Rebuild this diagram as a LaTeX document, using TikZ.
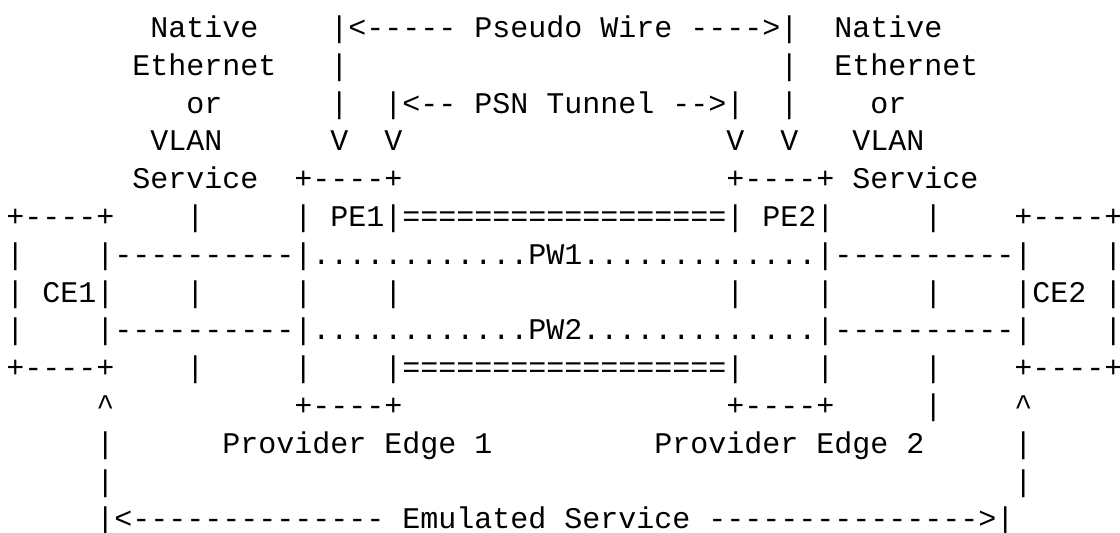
\documentclass[tikz,border=0pt]{standalone}
\usepackage{fontspec}
\setmonofont{Liberation Mono}
\tikzset{
	ascii/.style={font=\ttfamily\fontsize{15pt}{18pt}\selectfont, inner sep=0pt, anchor=base west}
}

\begin{document}
\begin{tikzpicture}[x=9pt, y=-18.9pt]
		% Page size (columns across, text rows down)
		\useasboundingbox (-0.333,-0.992) rectangle (61.889,13.108);
		% Attachment circuit labels
		\node[ascii] (nativeL) at (8,0) {Native};
		\node[ascii] (etherL) at (7,1) {Ethernet};
		\node[ascii] (orL) at (10,2) {or};
		\node[ascii] (vlanL) at (8,3) {VLAN};
		\node[ascii] (serviceL) at (7,4) {Service};
		\node[ascii] (nativeR) at (46,0) {Native};
		\node[ascii] (etherR) at (46,1) {Ethernet};
		\node[ascii] (orR) at (48,2) {or};
		\node[ascii] (vlanR) at (47,3) {VLAN};
		\node[ascii] (serviceR) at (47,4) {Service};
		% Pseudo wire span
		\node[ascii] (pwSpan) at (18,0) {|<----- Pseudo Wire ---->|};
		\node[ascii] (pwBarL1) at (18,1) {|};
		\node[ascii] (pwBarR1) at (43,1) {|};
		\node[ascii] (pwBarL2) at (18,2) {|};
		\node[ascii] (pwBarR2) at (43,2) {|};
		\node[ascii] (pwTipL) at (18,3) {V};
		\node[ascii] (pwTipR) at (43,3) {V};
		% PSN tunnel span
		\node[ascii] (psnSpan) at (21,2) {|<-- PSN Tunnel -->|};
		\node[ascii] (psnTipL) at (21,3) {V};
		\node[ascii] (psnTipR) at (40,3) {V};
		% Provider edges and the tunnel between them
		\node[ascii] (pe1Top) at (16,4) {+----+};
		\node[ascii] (pe2Top) at (40,4) {+----+};
		\node[ascii] (pe1) at (16,5) {| PE1|};
		\node[ascii] (tunTop) at (22,5) {==================};
		\node[ascii] (pe2) at (40,5) {| PE2|};
		\node[ascii] (tunBot) at (21,9) {|==================|};
		\node[ascii] (pe1Bot) at (16,10) {+----+};
		\node[ascii] (pe2Bot) at (40,10) {+----+};
		\node[ascii] (pe1Name) at (12,11) {Provider Edge 1};
		\node[ascii] (pe2Name) at (36,11) {Provider Edge 2};
		% Customer edges
		\node[ascii] (ce1Top) at (0,5) {+----+};
		\node[ascii] (ce1SideA) at (0,6) {|};
		\node[ascii] (ce1) at (0,7) {|~CE1|};
		\node[ascii] (ce1SideB) at (0,8) {|};
		\node[ascii] (ce1Bot) at (0,9) {+----+};
		\node[ascii] (ce2Top) at (56,5) {+----+};
		\node[ascii] (ce2SideA) at (61,6) {|};
		\node[ascii] (ce2) at (56,7) {|CE2~|};
		\node[ascii] (ce2SideB) at (61,8) {|};
		\node[ascii] (ce2Bot) at (56,9) {+----+};
		% Pseudo wires PW1 and PW2
		\node[ascii] (ac1L) at (5,6) {|----------|};
		\node[ascii] (pw1) at (17,6) {............PW1.............};
		\node[ascii] (ac1R) at (45,6) {|----------|};
		\node[ascii] (ac2L) at (5,8) {|----------|};
		\node[ascii] (pw2) at (17,8) {............PW2.............};
		\node[ascii] (ac2R) at (45,8) {|----------|};
		% Service lines down to the customer edges
		\node[ascii] (svcL5) at (10,5) {|};
		\node[ascii] (svcL7) at (10,7) {|};
		\node[ascii] (svcL9) at (10,9) {|};
		\node[ascii] (svcR5) at (51,5) {|};
		\node[ascii] (svcR7) at (51,7) {|};
		\node[ascii] (svcR9) at (51,9) {|};
		\node[ascii] (svcR10) at (51,10) {|};
		% Box sides on the middle row
		\node[ascii] (pe1SideA) at (16,7) {|};
		\node[ascii] (pe1SideB) at (21,7) {|};
		\node[ascii] (pe2SideA) at (40,7) {|};
		\node[ascii] (pe2SideB) at (45,7) {|};
		\node[ascii] (pe1SideC) at (16,9) {|};
		\node[ascii] (pe2SideC) at (45,9) {|};
		% Emulated service span
		\node[ascii] (emuTipL) at (5,10) {\textasciicircum};
		\node[ascii] (emuTipR) at (56,10) {\textasciicircum};
		\node[ascii] (emuBarL11) at (5,11) {|};
		\node[ascii] (emuBarR11) at (56,11) {|};
		\node[ascii] (emuBarL12) at (5,12) {|};
		\node[ascii] (emuBarR12) at (56,12) {|};
		\node[ascii] (emuSpan) at (5,13) {|<-------------- Emulated Service --------------->|};
	\end{tikzpicture}
\end{document}
